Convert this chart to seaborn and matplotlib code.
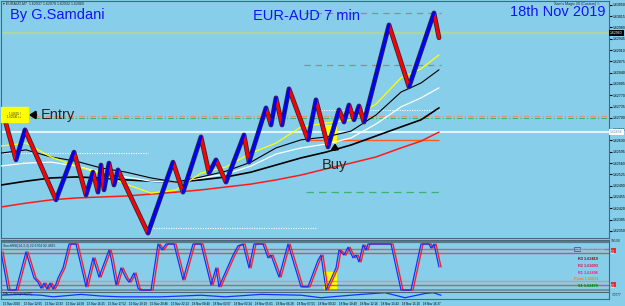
import numpy as np
import pandas as pd
import seaborn as sns
import matplotlib.pyplot as plt
from matplotlib.patches import Rectangle

# ---- price path (renko zigzag turning points): bar index and price ----
piv_x = [2, 15, 24, 55, 73, 85, 92, 97, 100, 103, 108, 113, 117, 147, 172, 182, 200,
         208, 215, 225, 243, 248, 265, 270, 275, 281, 288, 307, 315, 327, 338, 343,
         348, 353, 358, 363, 388, 408, 433, 438]
piv_p = [1.62715, 1.62570, 1.62663, 1.62446, 1.62594, 1.62461, 1.62532, 1.62470,
         1.62554, 1.62477, 1.62560, 1.62492, 1.62539, 1.62343, 1.62563, 1.62470,
         1.62641, 1.62529, 1.62570, 1.62501, 1.62647, 1.62563, 1.62731, 1.62678,
         1.62762, 1.62678, 1.62790, 1.62632, 1.62756, 1.62610, 1.62725, 1.62687,
         1.62740, 1.62694, 1.62737, 1.62687, 1.62988, 1.62796, 1.63025, 1.62948]

# ---- moving averages ----
ma_x = [0, 25, 50, 75, 100, 125, 150, 175, 200, 225, 250, 275, 300, 325, 350, 375, 400, 420, 438]
ma_yellow = [1.62613, 1.62622, 1.62579, 1.62551, 1.62526, 1.62495, 1.62467, 1.62477, 1.62529,
             1.62548, 1.62591, 1.62622, 1.62672, 1.62684, 1.62694, 1.62743, 1.62824, 1.62852, 1.62895]
ma_black_fast = [1.62591, 1.62601, 1.62579, 1.62566, 1.62545, 1.62532, 1.62514, 1.62501, 1.62517,
                 1.62535, 1.62563, 1.62607, 1.62632, 1.62641, 1.62659, 1.62709, 1.62780, 1.62808, 1.62849]
ma_white = [1.62551, 1.62560, 1.62563, 1.62551, 1.62532, 1.62517, 1.62504, 1.62501, 1.62514,
            1.62526, 1.62551, 1.62588, 1.62607, 1.62619, 1.62638, 1.62681, 1.62734, 1.62762, 1.62793]
ma_black_slow = [1.62492, 1.62504, 1.62514, 1.62517, 1.62514, 1.62508, 1.62504, 1.62501, 1.62508,
                 1.62517, 1.62532, 1.62554, 1.62576, 1.62594, 1.62616, 1.62644, 1.62672, 1.62694, 1.62731]
ma_red = [1.62424, 1.62436, 1.62446, 1.62452, 1.62455, 1.62458, 1.62464, 1.62470, 1.62477,
          1.62486, 1.62495, 1.62508, 1.62523, 1.62542, 1.62560, 1.62579, 1.62607, 1.62628, 1.62656]

# ---- horizontal levels on the price chart ----
bid_price = 1.62963
white_level = 1.62656
dashdot_pink = 1.62706
dashdot_green = 1.62700
pivot_level = 1.62631
dash_levels = [1.63025, 1.62864]
s1_level = 1.62470
dotted_levels = [(0, 147, 1.62591), (150, 315, 1.62359), (320, 438, 1.62725)]

price_ticks = [1.63050, 1.63015, 1.62980, 1.62945, 1.62910, 1.62875, 1.62840, 1.62805,
               1.62770, 1.62735, 1.62700, 1.62665, 1.62630, 1.62595, 1.62560, 1.62525,
               1.62490, 1.62455, 1.62420, 1.62385, 1.62350]

# ---- oscillator ----
osc_x = [0, 7, 15, 25, 33, 37, 40, 43, 46, 49, 52, 55, 57, 62, 68, 75, 85, 92, 98, 108, 110,
         115, 120, 125, 128, 133, 137, 139, 150, 157, 161, 165, 173, 182, 192, 200, 210, 215,
         218, 232, 237, 242, 248, 253, 262, 267, 270, 278, 287, 300, 307, 317, 320, 325, 335,
         338, 343, 347, 352, 355, 358, 362, 365, 367, 390, 400, 410, 420, 428, 430, 433, 438]
osc_k = [83, 0, 0, 83, 26, 17, 4, 15, 2, 15, 2, 13, 26, 48, 100, 100, 7, 70, 28, 87, 70,
         11, 48, 26, 17, 37, 4, 0, 0, 100, 87, 100, 100, 22, 100, 100, 11, 48,
         7, 76, 96, 100, 48, 100, 100, 70, 76, 28, 100, 7, 7, 65, 76, 0, 48,
         87, 76, 93, 70, 76, 61, 98, 87, 100, 100, 0, 0, 100, 100, 91, 100, 50]
osc_levels = [90, 80, 20, 10]
pivot_texts = ["R3 1.63419", "R2 1.63093", "R1 1.62896", "Pivot 1.62631", "S1 1.62470"]
pivot_colors = ["#8b0000", "#dc143c", "#ff1493", "#ff7f00", "#008000"]

# ---- bottom mini indicator ----
mini_x = [0, 20, 40, 52, 80, 100, 120, 160, 200, 224, 260, 300, 320, 360, 384, 404, 424, 432, 440]
mini_v = [57, 71, 57, 29, 71, 43, 29, 29, 57, 29, 71, 57, 14, 71, 100, 14, 86, 100, 57]

time_labels = ["15 Nov 2019", "15 Nov 12:05", "15 Nov 13:33", "15 Nov 14:58", "15 Nov 16:25",
               "15 Nov 17:52", "15 Nov 19:19", "15 Nov 20:46", "15 Nov 22:13", "18 Nov 00:40",
               "18 Nov 02:07", "18 Nov 03:34", "18 Nov 05:01", "18 Nov 06:28", "18 Nov 07:55",
               "18 Nov 09:22", "18 Nov 10:49", "18 Nov 12:16", "18 Nov 13:43", "18 Nov 15:10",
               "18 Nov 16:37"]

BG = "#87ceeb"
sns.set_style("white", {"axes.facecolor": BG})
plt.rcParams['font.family'] = ['Liberation Sans', 'DejaVu Sans']

W, H = 625.0, 306.0
fig = plt.figure(figsize=(6.25, 3.06), dpi=100)
fig.patch.set_facecolor(BG)


def panel(top, bottom):
    return fig.add_axes([1 / W, 1 - bottom / H, 608 / W, (bottom - top) / H])


ax = panel(1, 238)
osc = panel(240, 292)
mini = panel(292, 299)

for a in (ax, osc, mini):
    a.set_xlim(0, 608)
    for s in a.spines.values():
        s.set_color("#4a6878")
        s.set_linewidth(0.8)
    a.set_xlabel("")
    a.set_ylabel("")

# ---------- main price panel ----------
ax.set_ylim(1.62328, 1.63062)
ax.axhline(bid_price, color="#a8d8a0", lw=1.6, zorder=1)
ax.axhline(white_level, color="#e2f4ff", lw=1.5, zorder=1)
ax.axhline(dashdot_pink, color="#e8907a", lw=0.8, ls=(0, (5, 2, 1, 2)), zorder=1)
ax.axhline(dashdot_green, color="#3cb371", lw=0.8, ls=(0, (5, 2, 1, 2)), zorder=1)
for lv in dash_levels:
    ax.hlines(lv, 303, 440, color="#b07a90", lw=0.9, ls=(0, (5, 4)), zorder=1)
ax.hlines(s1_level, 305, 438, color="#3cb371", lw=0.9, ls=(0, (6, 4)), zorder=1)
ax.hlines(pivot_level, 308, 438, color="#ff5a1e", lw=1.0, zorder=1)
for x0, x1, lv in dotted_levels:
    ax.hlines(lv, x0, x1, color="white", lw=0.8, ls=(0, (1, 1.2)), zorder=1)

# yellow marker boxes
ax.add_patch(Rectangle((323, 1.62625), 12, 0.00053, color="#ffff00", zorder=2))
ax.add_patch(Rectangle((0, 1.62687), 27, 0.00047, color="#ffff00", zorder=5))
ax.text(13.5, 1.62713, "1.62605 /", fontsize=2.0, va="center", ha="center", zorder=6)
ax.text(13.5, 1.62703, "1.62540 ++", fontsize=2.0, va="center", ha="center", zorder=6)

sns.lineplot(x=ma_x, y=ma_red, ax=ax, color="#ff1a1a", lw=1.1, zorder=3)
sns.lineplot(x=ma_x, y=ma_black_slow, ax=ax, color="black", lw=1.2, zorder=3)
sns.lineplot(x=ma_x, y=ma_white, ax=ax, color="white", lw=0.9, zorder=3)
sns.lineplot(x=ma_x, y=ma_black_fast, ax=ax, color="black", lw=0.8, zorder=3)
sns.lineplot(x=ma_x, y=ma_yellow, ax=ax, color="#ffff00", lw=0.9, zorder=3)

# renko bricks: dark edge underneath, blue up legs, red down legs
sns.lineplot(x=piv_x, y=piv_p, ax=ax, color="#2a2a3c", lw=3.4, sort=False, zorder=4)
rows = []
for i in range(len(piv_x) - 1):
    d = "up" if piv_p[i + 1] > piv_p[i] else "down"
    rows.append((piv_x[i], piv_p[i], i, d))
    rows.append((piv_x[i + 1], piv_p[i + 1], i, d))
seg = pd.DataFrame(rows, columns=["x", "p", "seg", "dir"])
sns.lineplot(data=seg, x="x", y="p", units="seg", estimator=None, hue="dir",
             palette={"up": "#0000ff", "down": "#ff0000"}, lw=2.2, legend=False,
             ax=ax, zorder=4)

ax.yaxis.tick_right()
ax.set_yticks(price_ticks)
ax.set_yticklabels([f"{t:.5f}" for t in price_ticks])
ax.tick_params(axis="y", labelsize=2.5, length=2, pad=0.8, colors="black")
ax.set_xticks([])
ytr = ax.get_yaxis_transform()
ax.text(1.002, bid_price, "1.62960", transform=ytr, fontsize=2.5, color="white", va="center",
        bbox=dict(boxstyle="square,pad=0.25", fc="black", ec="none"), clip_on=False, zorder=7)
ax.text(1.002, white_level, "1.62656", transform=ytr, fontsize=2.5, color="#7090a0", va="center",
        bbox=dict(boxstyle="square,pad=0.25", fc="white", ec="none"), clip_on=False, zorder=7)

ax.annotate("", xy=(25, 1.62709), xytext=(38, 1.62709),
            arrowprops=dict(arrowstyle="-|>,head_length=0.35,head_width=0.22", color="black", lw=1.6))
ax.text(40, 1.62708, "Entry", fontsize=10.5, va="center", ha="left")
ax.annotate("", xy=(334, 1.62630), xytext=(334, 1.62592),
            arrowprops=dict(arrowstyle="-|>,head_length=0.3,head_width=0.2", color="black", lw=1.6))
ax.text(333, 1.62553, "Buy", fontsize=10.5, va="center", ha="center")

fig.text(10 / W, 1 - 15 / H, "By G.Samdani", color="#1414f5", fontsize=10.5, va="center")
fig.text(253 / W, 1 - 16 / H, "EUR-AUD 7 min", color="#1414f5", fontsize=10.5, va="center")
fig.text(510 / W, 1 - 12 / H, "18th Nov 2019", color="#1414f5", fontsize=10.5, va="center")
fig.text(3 / W, 1 - 3.5 / H, "\u25be EURAUD,M7  1.62937 1.62978 1.62932 1.62960",
         fontsize=2.6, va="center")
fig.text(600 / W, 1 - 4 / H, "Sam's Magic 3X (Custom) \u00a9", fontsize=2.6, va="center", ha="right")

# ---------- oscillator panel ----------
osc.set_ylim(-4.3, 108.7)
osc.axhline(104, color="#5a7888", lw=1.6)
osc.axhline(-0.5, color="#6a8898", lw=1.2)
for lv, c in zip(osc_levels, ["#c86464", "#c85a5a", "#d89494", "#c85a5a"]):
    osc.axhline(lv, color=c, lw=1.0)
osc.add_patch(Rectangle((323, -1), 12, 40, color="#ffff00", zorder=1))
sig_lag = 2
sns.lineplot(x=np.array(osc_x) + sig_lag, y=osc_k, ax=osc, color="#ff2020", lw=1.0, zorder=3)
sns.lineplot(x=osc_x, y=osc_k, ax=osc, color="#1530ff", lw=0.9, zorder=4)
for k, (t, c) in enumerate(zip(pivot_texts, pivot_colors)):
    osc.text(597, 67 - k * 14.5, t, fontsize=2.8, color=c, ha="right", va="center", fontweight="bold")
osc.text(604, 88, "Daily Pivot Levels", fontsize=2.4, color="#b0c8d4", ha="right", va="center")
osc.add_patch(Rectangle((573, 84), 6, 10, fill=False, ec="#3a5aa0", lw=0.6))
osc.set_xticks([])
osc.set_yticks([])
osc.text(2, 96, "StochRSI(14,3,3) 22.6704 82.4815", fontsize=2.4, va="center")
otr = osc.get_yaxis_transform()
osc.text(1.003, 106, "100.00", transform=otr, fontsize=2.3, va="center", clip_on=False)
for lv in (86, 12):
    osc.text(1.004, lv, "80.0" if lv > 50 else "20.0", transform=otr, fontsize=1.8, color="white",
             rotation=90, va="center", bbox=dict(boxstyle="square,pad=0.15", fc="#e03030", ec="none"),
             clip_on=False)

# ---------- mini indicator ----------
mini.set_ylim(-8, 112)
sns.lineplot(x=mini_x, y=mini_v, ax=mini, color="#1530ff", lw=0.9)
mini.set_yticks([])
mini.text(2, 80, "MACD Histogram(M7)", fontsize=2.2, va="center")
mini.text(1.004, 60, "7.0777", transform=mini.get_yaxis_transform(), fontsize=2.3,
          va="center", clip_on=False)
mini.set_xticks([2 + 21 * i for i in range(len(time_labels))])
mini.set_xticklabels(time_labels, fontsize=2.2, ha="left")
mini.tick_params(axis="x", length=1.5, pad=0.8, colors="black")

fig.savefig("out.png", dpi=100, facecolor=BG)
